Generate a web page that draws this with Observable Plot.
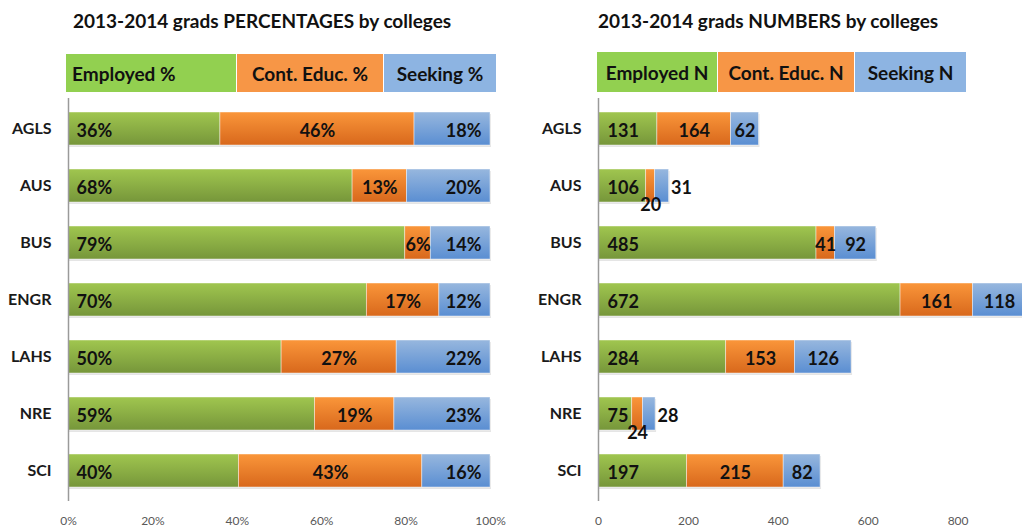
<!DOCTYPE html>
<html>
<head>
<meta charset="utf-8">
<script src="https://cdn.jsdelivr.net/npm/d3@7"></script>
<script src="https://cdn.jsdelivr.net/npm/@observablehq/plot@0.6"></script>
<style>
  html, body { margin: 0; padding: 0; background: #fff; overflow: hidden; width: 1022px; height: 527px; }
  body { position: relative; font-family: Lato, "Open Sans", sans-serif; }
  .panel { position: absolute; top: 0; width: 511px; height: 527px; }
  .title { position: absolute; top: 11px; font-weight: bold; font-size: 19px; line-height: 1; color: #111; white-space: nowrap; }
  .legend { position: absolute; display: flex; height: 38px; }
  .legend div { height: 100%; display: flex; align-items: center; justify-content: center; font-weight: bold; font-size: 19px; color: #111; white-space: nowrap; box-sizing: border-box; margin-right: 1px; }
</style>
</head>
<body>
<div id="left" class="panel" style="left:0"></div>
<div id="right" class="panel" style="left:511px"></div>
<script>
// ---- data ----
const colleges = ["AGLS", "AUS", "BUS", "ENGR", "LAHS", "NRE", "SCI"];
const seriesPct = ["Employed %", "Cont. Educ. %", "Seeking %"];
const seriesN = ["Employed N", "Cont. Educ. N", "Seeking N"];
const employedPct = [36, 68, 79, 70, 50, 59, 40];
const contEducPct = [46, 13, 6, 17, 27, 19, 43];
const seekingPct = [18, 20, 14, 12, 22, 23, 16];
const employedN = [131, 106, 485, 672, 284, 75, 197];
const contEducN = [164, 20, 41, 161, 153, 24, 215];
const seekingN = [62, 31, 92, 118, 126, 28, 82];
const pctTicks = [0, 20, 40, 60, 80, 100];
const nTicks = [0, 200, 400, 600, 800];
const titlePct = "2013-2014 grads PERCENTAGES by colleges";
const titleN = "2013-2014 grads NUMBERS by colleges";

const legendColors = ["#92D050", "#F79646", "#8DB4E2"];
const gradStops = [["#a0c64f", "#76963a"], ["#fa963a", "#d8681c"], ["#97b7de", "#5a8ed2"]];

// build stacked rows
function buildRows(series, arrays, normalize) {
  const rows = [];
  colleges.forEach((c, i) => {
    const vals = arrays.map(a => a[i]);
    const total = d3.sum(vals);
    let acc = 0;
    vals.forEach((v, k) => {
      const w = normalize ? v / total * 100 : v;
      rows.push({college: c, series: series[k], k, value: v, x1: acc, x2: acc + w, mid: acc + w / 2});
      acc += w;
    });
  });
  return rows;
}

function gradientDefs(prefix) {
  return () => {
    const defs = d3.create("svg:defs");
    gradStops.forEach((s, k) => {
      const g = defs.append("linearGradient").attr("id", prefix + k).attr("x1", 0).attr("y1", 0).attr("x2", 0).attr("y2", 1);
      g.append("stop").attr("offset", "0%").attr("stop-color", s[0]);
      g.append("stop").attr("offset", "100%").attr("stop-color", s[1]);
    });
    return defs.node();
  };
}

function addHeader(el, title, titleLeft, series, legendLeft, legendTop, widths, firstLeft) {
  const t = document.createElement("div");
  t.className = "title";
  t.style.left = titleLeft + "px";
  t.textContent = title;
  el.appendChild(t);
  const lg = document.createElement("div");
  lg.className = "legend";
  lg.style.left = legendLeft + "px";
  lg.style.top = legendTop + "px";
  lg.style.height = (92 - legendTop) + "px";
  series.forEach((s, k) => {
    const d = document.createElement("div");
    d.style.background = legendColors[k];
    d.style.width = widths[k] + "px";
    if (k === 0 && firstLeft) { d.style.justifyContent = "flex-start"; d.style.paddingLeft = "6px"; }
    d.textContent = s;
    lg.appendChild(d);
  });
  el.appendChild(lg);
}

const common = {
  width: 511,
  height: 527,
  marginTop: 98,
  marginBottom: 26,
  style: {fontFamily: "Lato, 'Open Sans', sans-serif", background: "transparent", overflow: "hidden"}
};
const yScale = {domain: colleges, paddingInner: 0.42, paddingOuter: 0.21};
const labelFont = {fontSize: 18, fontWeight: "bold", fill: "#111", dy: 2.5};
const yAxisOpts = {tickSize: 0, tickPadding: 17, label: null, fontSize: 16, fontWeight: "bold", fill: "#1a1a1a"};

// ---- left chart ----
const rowsPct = buildRows(seriesPct, [employedPct, contEducPct, seekingPct], true);
const leftPlot = Plot.plot({
  ...common,
  marginLeft: 68,
  marginRight: 21,
  x: {domain: [0, 100], axis: null},
  y: {...yScale, axis: null},
  color: {domain: seriesPct, range: [0, 1, 2].map(k => `url(#gl${k})`)},
  marks: [
    gradientDefs("gl"),
    Plot.barX(rowsPct, {x1: "x1", x2: "x2", y: "college", fill: "#000", fillOpacity: 0.1, dy: 2, dx: 1, inset: 0}),
    Plot.barX(rowsPct, {x1: "x1", x2: "x2", y: "college", fill: "series", inset: 0, stroke: "#fff", strokeOpacity: 0.55, strokeWidth: 0.8}),
    Plot.text(rowsPct.filter(d => d.k === 0), {x: "x1", y: "college", text: d => d.value + "%", textAnchor: "start", dx: 8, ...labelFont}),
    Plot.text(rowsPct.filter(d => d.k === 1), {x: "mid", y: "college", text: d => d.value + "%", ...labelFont}),
    Plot.text(rowsPct.filter(d => d.k === 2), {x: "x2", y: "college", text: d => d.value + "%", textAnchor: "end", dx: -9, ...labelFont}),
    Plot.ruleX([0], {stroke: "#9a9a9a", strokeWidth: 1.5}),
    Plot.axisY(yAxisOpts),
    Plot.axisX({ticks: pctTicks, tickFormat: d => d + "%", tickSize: 0, tickPadding: 15, label: null, fontSize: 12, fill: "#595959"})
  ]
});
const leftEl = document.getElementById("left");
leftEl.appendChild(leftPlot);
addHeader(leftEl, titlePct, 73, seriesPct, 66, 54, [170, 146, 112], true);

// ---- right chart ----
const rowsN = buildRows(seriesN, [employedN, contEducN, seekingN], false);
const small = 35; // segments too narrow for an inside label
const rightPlot = Plot.plot({
  ...common,
  marginLeft: 87,
  marginRight: 0,
  x: {domain: [0, 1000], range: [87, 536.5], axis: null},
  y: {...yScale, axis: null},
  color: {domain: seriesN, range: [0, 1, 2].map(k => `url(#gr${k})`)},
  marks: [
    gradientDefs("gr"),
    Plot.barX(rowsN, {x1: "x1", x2: "x2", y: "college", fill: "#000", fillOpacity: 0.1, dy: 2, dx: 1, inset: 0}),
    Plot.barX(rowsN, {x1: "x1", x2: "x2", y: "college", fill: "series", inset: 0, stroke: "#fff", strokeOpacity: 0.55, strokeWidth: 0.8}),
    Plot.text(rowsN.filter(d => d.k === 0), {x: "x1", y: "college", text: "value", textAnchor: "start", dx: 9, ...labelFont}),
    Plot.text(rowsN.filter(d => d.k === 1 && d.value >= small), {x: "mid", y: "college", text: "value", ...labelFont}),
    Plot.text(rowsN.filter(d => d.k === 1 && d.value < small), {x: "mid", y: "college", text: "value", ...labelFont, dy: 19}),
    Plot.text(rowsN.filter(d => d.k === 2 && d.value >= small), {x: "mid", y: "college", text: "value", ...labelFont}),
    Plot.text(rowsN.filter(d => d.k === 2 && d.value < small), {x: "x2", y: "college", text: "value", textAnchor: "start", dx: 2, ...labelFont}),
    Plot.ruleX([0], {stroke: "#9a9a9a", strokeWidth: 1.5}),
    Plot.axisY(yAxisOpts),
    Plot.axisX({ticks: nTicks, tickSize: 0, tickPadding: 15, label: null, fontSize: 12, fill: "#595959"})
  ]
});
const rightEl = document.getElementById("right");
rightEl.appendChild(rightPlot);
addHeader(rightEl, titleN, 87, seriesN, 86, 52, [120, 136, 111], false);
</script>
</body>
</html>
